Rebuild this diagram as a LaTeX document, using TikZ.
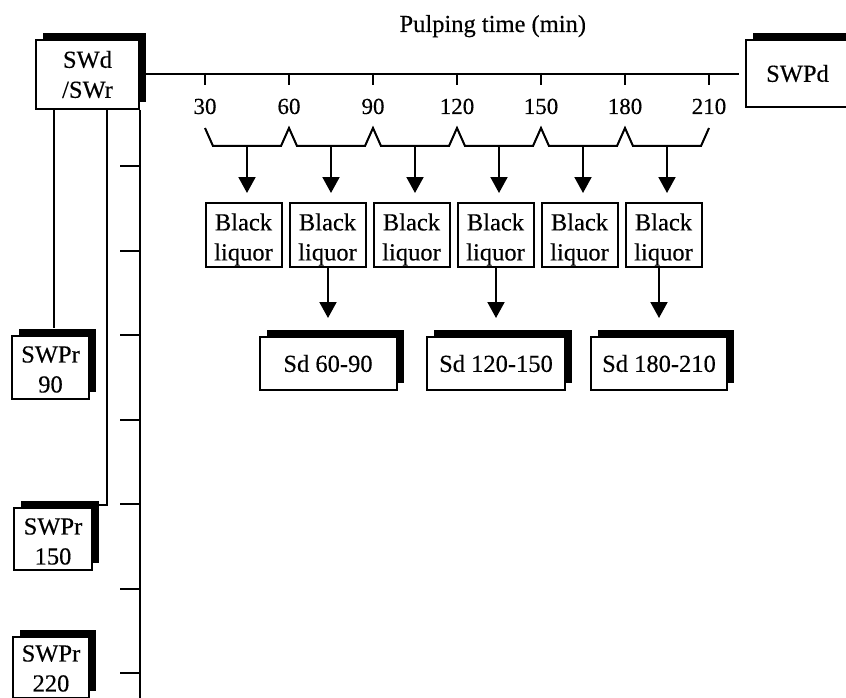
\documentclass[tikz,border=0pt]{standalone}
\usepackage{fontspec}
\setmainfont{Liberation Serif}[FakeBold=0.3]
\usetikzlibrary{arrows.meta,shadows}
\begin{document}
\begin{tikzpicture}[x=1pt,y=-1pt, line width=2pt,
  box/.style={draw, fill=white, line width=2pt, inner sep=0pt, align=center, font=\fontsize{24.5}{30}\selectfont},
  sbox/.style={box, general shadow={fill=black, shadow xshift=7pt, shadow yshift=7pt}},
  txt/.style={inner sep=0pt, align=center, font=\fontsize{24.5}{30}\selectfont},
  lbl/.style={font=\fontsize{23}{28}\selectfont, inner sep=0pt},
  arr/.style={-{Triangle[width=17pt,length=16pt]}, line width=2pt},
]
\useasboundingbox (0,0) rectangle (846,698);

% title
\node[txt, anchor=base east] (title) at (587,32) {Pulping time (min)};

% main boxes
\node[sbox, minimum width=103pt, minimum height=69pt] (swd) at (87.5,74.5) {SWd\\/SWr};
\node[sbox, minimum width=103pt, minimum height=67pt] (swpd) at (797.5,73.5) {SWPd};

% horizontal time axis
\draw (swd.east) -- ([xshift=-6pt]swd.east -| swpd.west);
\foreach \i/\t in {0/30,1/60,2/90,3/120,4/150,5/180,6/210} {
  \coordinate (tk\i) at (205+84*\i,73);
  \draw (tk\i) -- ++(0,12);
  \node[lbl, anchor=base] (lab\t) at (205+84*\i,114) {\t};
}

% zigzag brace
\draw[line join=miter] (205,128) foreach \i in {0,...,5} { -- (213+84*\i,146) -- (281+84*\i,146) -- (289+84*\i,128) };

% black liquor boxes
\foreach \i/\x in {1/243.5,2/327.5,3/411.5,4/495.5,5/579.5,6/663.5} {
  \node[box, minimum width=76pt, minimum height=64pt] (bl\i) at (\x,235) {};
  \node[txt] (blt\i) at (\x,239.5) {Black\\liquor};
}
\foreach \i in {1,...,6} {
  \coordinate (m\i) at (163+84*\i,146);
  \draw[arr, shorten >=9pt] (m\i) -- (m\i |- bl\i.north);
}

% Sd boxes
\node[sbox, minimum width=137pt, minimum height=53pt] (sd1) at (328,363.5) {Sd 60-90};
\node[sbox, minimum width=138pt, minimum height=53pt] (sd2) at (496,363.5) {Sd 120-150};
\node[sbox, minimum width=136pt, minimum height=53pt] (sd3) at (659,363.5) {Sd 180-210};
\draw[arr, shorten >=18pt] (bl2.south -| sd1.north) -- (sd1.north);
\draw[arr, shorten >=18pt] (bl4.south -| sd2.north) -- (sd2.north);
\draw[arr, shorten >=18pt] (bl6.south -| sd3.north) -- (sd3.north);

% SWPr boxes
\node[sbox, minimum width=77pt, minimum height=63pt] (swpr90) at (50.5,367.5) {};
\node[txt] (swpr90t) at (50.5,369.5) {SWPr\\90};
\node[sbox, minimum width=78pt, minimum height=62pt] (swpr150) at (53,539) {};
\node[txt] (swpr150t) at (53,541.5) {SWPr\\150};
\node[sbox, minimum width=76pt, minimum height=61pt] (swpr220) at (51,667.5) {};
\node[txt] (swpr220t) at (51,668.5) {SWPr\\220};

% vertical axis
\coordinate (bot) at (140,698);
\draw (swd.south east) -- (swd.south east |- bot);
\foreach \i in {0,...,6} {
  \coordinate (vt\i) at (120,166+84.5*\i);
  \draw (vt\i) -- (vt\i -| swd.south east);
}

% branch lines
\coordinate (j1) at (54,328);
\coordinate (j2) at (107,505);
\draw (j1 |- swd.south) -- (j1);
\draw (j2 |- swd.south) -- (j2) -- (j2 -| swpr150.east);
\end{tikzpicture}
\end{document}
